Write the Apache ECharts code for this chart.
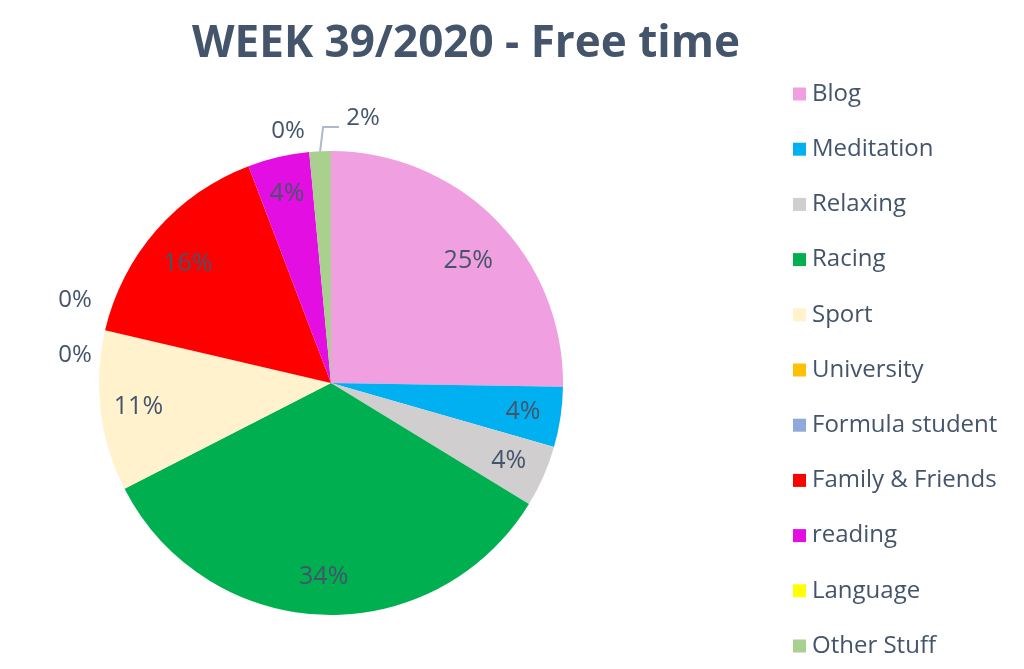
<!DOCTYPE html>
<html>
<head>
<meta charset="utf-8">
<script src="https://cdn.jsdelivr.net/npm/echarts@6/dist/echarts.min.js"></script>
<style>
html,body{margin:0;padding:0;background:#fff;}
#chart{width:1024px;height:669px;}
</style>
</head>
<body>
<div id="chart"></div>
<script>
const titleText = 'WEEK 39/2020 - Free time';
const categories = ['Blog','Meditation','Relaxing','Racing','Sport','University','Formula student','Family & Friends','reading','Language','Other Stuff'];
const values = [25.3, 4.2, 4.3, 33.8, 11.2, 0, 0, 15.6, 4.3, 0, 1.5];
const colors = ['#F0A0E0','#00B0F0','#D0CECE','#00B050','#FFF2CC','#FFC000','#8EA9DB','#FF0000','#E20EE2','#FFFF00','#A9D08E'];
const outsideLabelItems = ['University','Formula student','Language','Other Stuff'];

// layout: where Excel placed the outside labels (label centers)
const outsideLabelPos = {
  'University': [75, 355],
  'Formula student': [75, 300],
  'Language': [288, 131],
  'Other Stuff': [363, 118]
};
// layout: small nudges of inside labels (Excel best-fit placement)
const insideLabelNudge = {
  'Blog': [-1, 14],
  'Family & Friends': [3, 9]
};

const textColor = '#44546A';
const fontFamily = '"Open Sans", "Liberation Sans", sans-serif';

const mainData = categories.map((name, i) => ({
  name: name,
  value: values[i],
  itemStyle: { color: colors[i] },
  label: { show: outsideLabelItems.includes(name) },
  labelLine: { show: name === 'Other Stuff' }
}));
const labelData = categories.map((name, i) => ({
  name: name,
  value: values[i],
  label: { show: !outsideLabelItems.includes(name), offset: insideLabelNudge[name] || [0, 0] }
}));

const chart = echarts.init(document.getElementById('chart'));
chart.setOption({
  animation: false,
  title: {
    text: titleText,
    left: 461, top: 17, textAlign: 'center',
    textStyle: { color: textColor, fontFamily: fontFamily, fontWeight: 'bold', fontSize: 44 }
  },
  legend: {
    orient: 'vertical',
    left: 788, top: 77,
    itemWidth: 13, itemHeight: 13, itemGap: 31.2,
    icon: 'rect',
    data: categories,
    textStyle: { color: textColor, fontFamily: fontFamily, fontSize: 24, lineHeight: 24, padding: [0,0,0,1] }
  },
  series: [
    {
      type: 'pie',
      center: [331, 383],
      radius: [0, 232],
      startAngle: 90,
      clockwise: true,
      percentPrecision: 0,
      avoidLabelOverlap: false,
      data: mainData,
      label: {
        position: 'outside',
        formatter: '{d}%',
        color: textColor, fontFamily: fontFamily, fontSize: 24
      },
      labelLine: { length: 18, length2: 12, lineStyle: { color: '#ADB9CA', width: 2 } },
      labelLayout: function (params) {
        const name = categories[params.dataIndex];
        const pos = outsideLabelPos[name];
        if (!pos) return {};
        const res = { x: pos[0], y: pos[1], align: 'center', verticalAlign: 'middle' };
        if (name === 'Other Stuff' && params.labelLinePoints) {
          const p0 = params.labelLinePoints[0];
          res.labelLinePoints = [p0, [p0[0] + 3, pos[1] + 9], [pos[0] - 24, pos[1] + 9]];
        }
        return res;
      },
      emphasis: { disabled: true }
    },
    {
      type: 'pie',
      silent: true,
      center: [331, 383],
      radius: [150, 232],
      startAngle: 90,
      clockwise: true,
      percentPrecision: 0,
      data: labelData,
      itemStyle: { color: 'rgba(0,0,0,0)' },
      label: {
        position: 'inside',
        formatter: '{d}%',
        color: textColor, fontFamily: fontFamily, fontSize: 25
      },
      labelLine: { show: false },
      emphasis: { disabled: true }
    }
  ]
});
</script>
</body>
</html>
